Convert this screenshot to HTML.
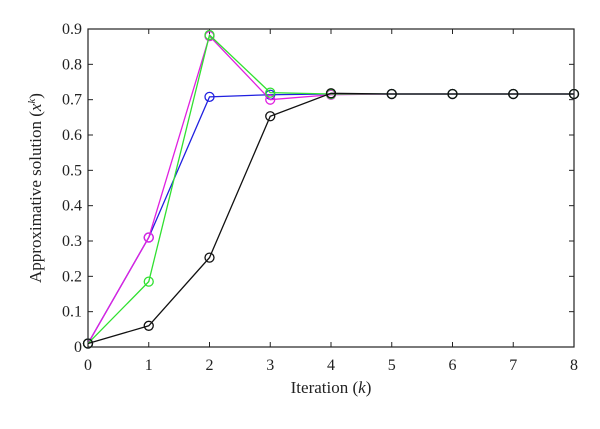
<!DOCTYPE html>
<html><head><meta charset="utf-8"><style>
body{margin:0;background:#fff;}
svg text{font-family:"Liberation Serif",serif;fill:#222;}
</style></head><body>
<svg width="600" height="424" viewBox="0 0 600 424" xmlns="http://www.w3.org/2000/svg" id="chart"></svg>
<script>
const xCategories=[0,1,2,3,4,5,6,7,8];
const yTicks=[0,0.1,0.2,0.3,0.4,0.5,0.6,0.7,0.8,0.9];
const seriesMagenta=[0.01,0.31,0.88,0.70,0.714,0.716,0.716,0.716,0.716];
const seriesGreen=[0.01,0.185,0.883,0.72,0.716,0.716,0.716,0.716,0.716];
const seriesBlue=[0.01,0.31,0.708,0.714,0.716,0.716,0.716,0.716,0.716];
const seriesBlack=[0.01,0.06,0.253,0.653,0.718,0.716,0.716,0.716,0.716];
const L=88,R=574,T=29,B=347;
const xs=v=>L+(v-0)/(8-0)*(R-L);
const ys=v=>B-(v/0.9)*(B-T);
const svg=document.getElementById('chart');
const NS='http://www.w3.org/2000/svg';
function mk(tag,attrs,parent){const e=document.createElementNS(NS,tag);for(const k in attrs)e.setAttribute(k,attrs[k]);(parent||svg).appendChild(e);return e;}
const box=mk('rect',{x:L,y:T,width:R-L,height:B-T,fill:'none',stroke:'#222','stroke-width':1.2});


xCategories.forEach(v=>{
  const x=xs(v);
  mk('line',{x1:x,y1:B,x2:x,y2:B-5,stroke:'#222'});
  mk('line',{x1:x,y1:T,x2:x,y2:T+5,stroke:'#222'});
  const t=mk('text',{x:x,y:B+23,'text-anchor':'middle','font-size':16});
  t.textContent=v;
  
  
});
yTicks.forEach(v=>{
  const y=ys(v);
  mk('line',{x1:L,y1:y,x2:L+5,y2:y,stroke:'#222'});
  mk('line',{x1:R,y1:y,x2:R-5,y2:y,stroke:'#222'});
  const t=mk('text',{x:L-6,y:y+5,'text-anchor':'end','font-size':16});
  t.textContent=v===0?'0':String(v);
  
  
});
const xt=mk('text',{x:(L+R)/2,y:393,'text-anchor':'middle','font-size':17});
xt.innerHTML='Iteration (<tspan font-style="italic">k</tspan>)';


const yt=mk('text',{x:0,y:0,'text-anchor':'middle','font-size':17,transform:'translate(41,'+((T+B)/2)+') rotate(-90)'});
yt.innerHTML='Approximative solution (<tspan font-style="italic">x</tspan><tspan font-style="italic" font-size="11" dy="-6">k</tspan><tspan dy="6">)</tspan>';


const series=[['series-blue',seriesBlue,'#2020e0'],['series-magenta',seriesMagenta,'#e020e0'],['series-green',seriesGreen,'#30e030'],['series-black',seriesBlack,'#111']];
series.forEach(([name,vals,col])=>{
  const g=mk('g',{});
  
  
  mk('polyline',{points:vals.map((v,i)=>xs(xCategories[i])+','+ys(v)).join(' '),fill:'none',stroke:col,'stroke-width':1.3},g);
  vals.forEach((v,i)=>{
    const c=mk('circle',{cx:xs(xCategories[i]),cy:ys(v),r:4.5,fill:'none',stroke:col,'stroke-width':1.3},g);
    
    
  });
});
</script>
</body></html>
